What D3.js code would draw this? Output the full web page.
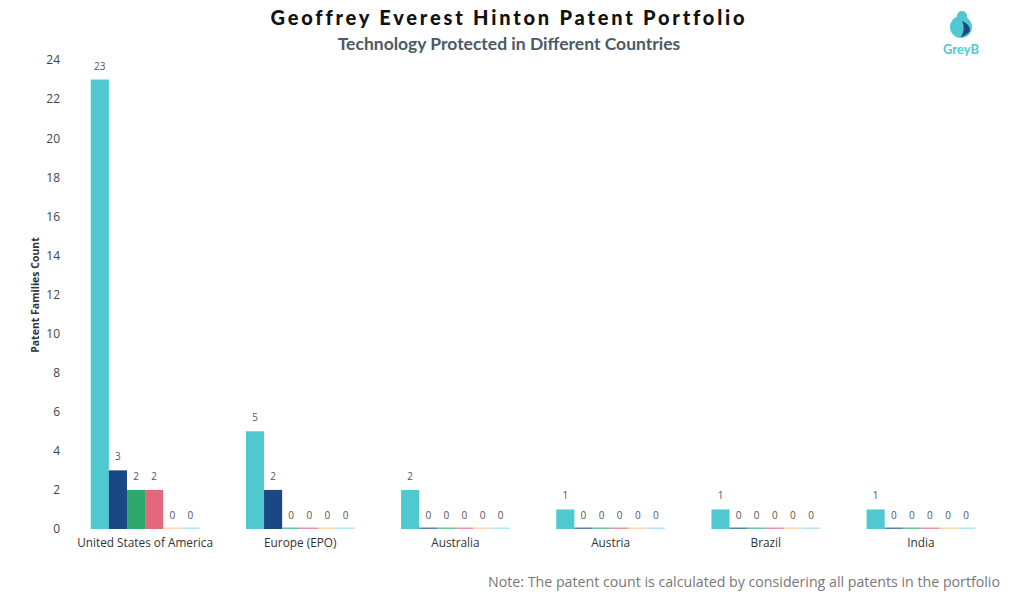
<!DOCTYPE html>
<html><head><meta charset="utf-8">
<script src="https://cdn.jsdelivr.net/npm/d3@7"></script>
<style>body{margin:0;background:#fff}svg{display:block}</style>
</head><body><svg id="c" width="1024" height="602"></svg>
<script>
const countries = ["United States of America","Europe (EPO)","Australia","Austria","Brazil","India"];
const seriesNames = ["S1","S2","S3","S4","S5","S6"];
const seriesColors = ["#4fc9cf","#1b4784","#2fa86c","#e1687f","#fdc98c","#8fd6f5"];
const s1 = [23,5,2,1,1,1];
const s2 = [3,2,0,0,0,0];
const s3 = [2,0,0,0,0,0];
const s4 = [2,0,0,0,0,0];
const s5 = [0,0,0,0,0,0];
const s6 = [0,0,0,0,0,0];
const series = [s1,s2,s3,s4,s5,s6];
const yTicks = [0,2,4,6,8,10,12,14,16,18,20,22,24];

const svg = d3.select("#c");
const x0 = d3.scaleBand().domain(countries).range([67.5,998.5]).paddingInner(0.3).paddingOuter(0.15);
const x1 = d3.scaleBand().domain(seriesNames).range([0,x0.bandwidth()]);
const y = d3.scaleLinear().domain([0,24]).range([529,60]);

// title
svg.append("text").attr("x",509).attr("y",25).attr("text-anchor","middle")
  .attr("font-family","Lato").attr("font-weight","900").attr("font-size",20)
  .attr("letter-spacing","2.8px").attr("fill","#111").text("Geoffrey Everest Hinton Patent Portfolio");
svg.append("text").attr("x",509).attr("y",50).attr("text-anchor","middle")
  .attr("font-family","Lato").attr("font-weight","bold").attr("font-size",17.5)
  .attr("fill","#4b5a66").text("Technology Protected in Different Countries");

// y axis
const ya = svg.append("g").attr("transform","translate(60,0)")
  .call(d3.axisLeft(y).tickValues(yTicks).tickSize(0).tickPadding(0));
ya.select(".domain").remove();
ya.selectAll("text").attr("font-family","Open Sans").attr("font-size",12).attr("fill","#444");
svg.append("text").attr("transform","translate(39,295) rotate(-90)").attr("text-anchor","middle")
  .attr("font-family","Open Sans").attr("font-weight","bold").attr("font-size",10.5).attr("fill","#333")
  .text("Patent Families Count");

// bars
const g = svg.append("g");
countries.forEach((c,ci)=>{
  series.forEach((s,si)=>{
    const v = s[ci];
    const bx = x0(c)+x1(seriesNames[si]);
    const h = y(0)-y(v);
    g.append("rect").attr("x",bx).attr("width",x1.bandwidth())
      .attr("y", v>0 ? y(v) : y(0)-1.5).attr("height", v>0 ? h : 1.5)
      .attr("fill",seriesColors[si]).attr("opacity", v>0?1:0.7);
    g.append("text").attr("x",bx+x1.bandwidth()/2).attr("y",y(v)-10)
      .attr("text-anchor","middle").attr("font-family","Open Sans").attr("font-size",10)
      .attr("fill","#555").text(v);
  });
});

// x axis labels
const xa = svg.append("g").attr("transform","translate(0,538)")
  .call(d3.axisBottom(x0).tickSize(0).tickPadding(0));
xa.select(".domain").remove();
xa.selectAll("text").attr("dy","0.75em").attr("font-family","Open Sans").attr("font-size",11.8).attr("fill","#333");

// note
svg.append("text").attr("x",1000).attr("y",587).attr("text-anchor","end")
  .attr("font-family","Open Sans").attr("font-size",14.2).attr("fill","#777")
  .text("Note: The patent count is calculated by considering all patents in the portfolio");

// logo
const lg = svg.append("g");
lg.append("circle").attr("cx",961).attr("cy",27).attr("r",11).attr("fill","#4fc9cf");
lg.append("circle").attr("cx",962).attr("cy",16).attr("r",5).attr("fill","#4fc9cf");
lg.append("path").attr("d","M962,21 Q970,24 970,31 Q967,35 961,37 Q966,29 962,21 Z").attr("fill","#1b4784");
lg.append("text").attr("x",961).attr("y",54).attr("text-anchor","middle")
  .attr("font-family","Lato").attr("font-weight","bold").attr("font-size",13).attr("fill","#4fc9cf").text("GreyB");
</script></body></html>
